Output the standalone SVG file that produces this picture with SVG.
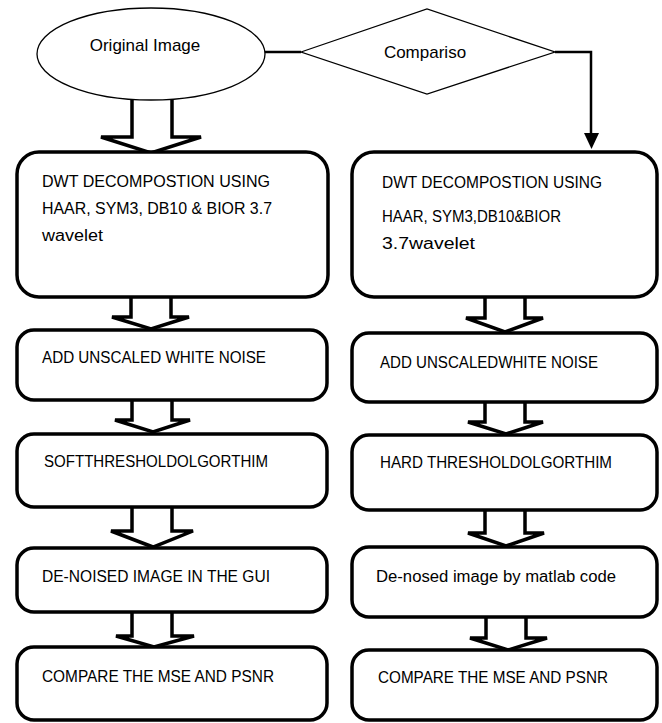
<svg xmlns="http://www.w3.org/2000/svg" width="662" height="723" viewBox="0 0 662 723">
<defs>
<style>
.bg{fill:#fff}
.thin{fill:#fff;stroke:#000;stroke-width:1.3}
.box{fill:#fff;stroke:#000;stroke-width:3.5}
.blk{fill:#fff;stroke:#000;stroke-width:3.5;stroke-linejoin:miter}
.conn{fill:none;stroke:#000;stroke-width:2.5}
text{font-family:"Liberation Sans",Arial,sans-serif;font-size:16px;fill:#000}
.lbl{font-size:17px;text-anchor:middle}
</style>
</defs>
<rect class="bg" width="662" height="723"/>

<g id="connectors">
<line x1="265" y1="52" x2="301" y2="52" stroke="#000" stroke-width="2.5"/>
<path class="conn" d="M555,52 H591 V133"/>
<path d="M584,133 L599,133 L591.5,149 Z" fill="#000"/>
<path class="blk" d="M132,99 V137 H101 L151,153 L201,137 H172 V99"/>
<path class="blk" d="M131,297 V317 H112 L151,329 L189,317 H171 V297"/>
<path class="blk" d="M485,297 V318 H466 L505,332 L543,318 H525 V297"/>
<path class="blk" d="M132,400 V420 H115 L153,432 L190,420 H172 V400"/>
<path class="blk" d="M485,402 V422 H468 L506,434 L543,422 H525 V402"/>
<path class="blk" d="M132,507 V531 H111 L153,547 L193,531 H172 V507"/>
<path class="blk" d="M485,510 V533 H468 L506,546 L544,533 H525 V510"/>
<path class="blk" d="M132,612 V636 H116 L154,647 L194,636 H172 V612"/>
<path class="blk" d="M486,617 V638 H470 L508,650 L547,638 H526 V617"/>
</g>

<g id="original">
<ellipse class="thin" cx="151" cy="54" rx="114" ry="46"/>
<text class="lbl" x="145" y="51">Original Image</text>
</g>

<g id="comparison">
<polygon class="thin" points="301,52 427,9 555,52 427,94"/>
<text class="lbl" x="425" y="58">Compariso</text>
</g>

<g id="L1">
<rect class="box" x="17" y="152" width="311" height="145" rx="22"/>
<text x="42" y="187" textLength="228" lengthAdjust="spacingAndGlyphs">DWT DECOMPOSTION USING</text>
<text x="42" y="214" textLength="230" lengthAdjust="spacingAndGlyphs">HAAR, SYM3, DB10 &amp; BIOR 3.7</text>
<text x="42" y="241" textLength="61" lengthAdjust="spacingAndGlyphs">wavelet</text>
</g>
<g id="R1">
<rect class="box" x="352" y="152" width="305" height="145" rx="22"/>
<text x="382" y="188" textLength="220" lengthAdjust="spacingAndGlyphs">DWT DECOMPOSTION USING</text>
<text x="382" y="222" textLength="179" lengthAdjust="spacingAndGlyphs">HAAR, SYM3,DB10&amp;BIOR</text>
<text x="382" y="249" textLength="93" lengthAdjust="spacingAndGlyphs">3.7wavelet</text>
</g>

<g id="L2">
<rect class="box" x="17" y="330" width="310" height="70" rx="17"/>
<text x="42" y="363" textLength="224" lengthAdjust="spacingAndGlyphs">ADD UNSCALED WHITE NOISE</text>
</g>
<g id="R2">
<rect class="box" x="352" y="333" width="305" height="69" rx="17"/>
<text x="380" y="368" textLength="218" lengthAdjust="spacingAndGlyphs">ADD UNSCALEDWHITE NOISE</text>
</g>

<g id="L3">
<rect class="box" x="17" y="434" width="310" height="73" rx="17"/>
<text x="44" y="467" textLength="224" lengthAdjust="spacingAndGlyphs">SOFTTHRESHOLDOLGORTHIM</text>
</g>
<g id="R3">
<rect class="box" x="352" y="435" width="305" height="75" rx="17"/>
<text x="380" y="468" textLength="232" lengthAdjust="spacingAndGlyphs">HARD THRESHOLDOLGORTHIM</text>
</g>

<g id="L4">
<rect class="box" x="17" y="548" width="310" height="64" rx="17"/>
<text x="42" y="582" textLength="228" lengthAdjust="spacingAndGlyphs">DE-NOISED IMAGE IN THE GUI</text>
</g>
<g id="R4">
<rect class="box" x="352" y="547" width="305" height="70" rx="17"/>
<text x="376" y="582" textLength="240" lengthAdjust="spacingAndGlyphs">De-nosed image by matlab code</text>
</g>

<g id="L5">
<rect class="box" x="17" y="647" width="310" height="73" rx="17"/>
<text x="42" y="682" textLength="232" lengthAdjust="spacingAndGlyphs">COMPARE THE MSE AND PSNR</text>
</g>
<g id="R5">
<rect class="box" x="352" y="650" width="305" height="70" rx="17"/>
<text x="378" y="683" textLength="230" lengthAdjust="spacingAndGlyphs">COMPARE THE MSE AND PSNR</text>
</g>
</svg>
